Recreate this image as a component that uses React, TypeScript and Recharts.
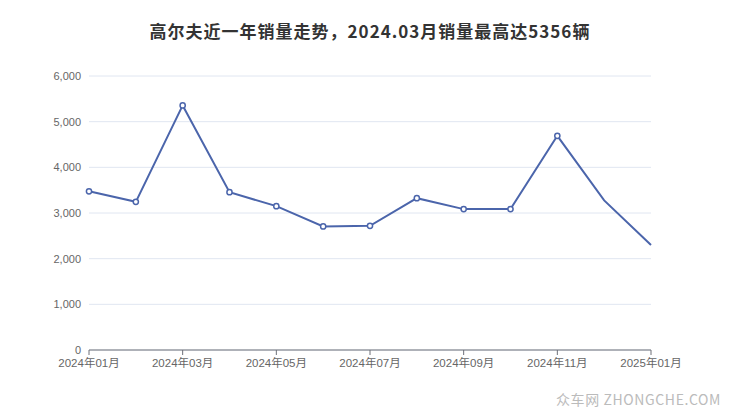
import { LineChart, Line, XAxis, YAxis, CartesianGrid } from "recharts";

// Monthly sales, 2024-01 .. 2025-01
const months = [
  "2024年01月", "2024年02月", "2024年03月", "2024年04月", "2024年05月", "2024年06月",
  "2024年07月", "2024年08月", "2024年09月", "2024年10月", "2024年11月", "2024年12月",
  "2025年01月",
];
const sales = [3475, 3245, 5356, 3455, 3150, 2705, 2720, 3325, 3085, 3085, 4690, 3275, 2300];
const yTicks = [0, 1000, 2000, 3000, 4000, 5000, 6000];
const title = "高尔夫近一年销量走势，2024.03月销量最高达5356辆";

const LINE = "#4b65ab";
const FONT = "'Noto Sans CJK SC', 'Noto Sans', sans-serif";
const TICK_FONT = "'Liberation Sans', 'Noto Sans CJK SC', sans-serif";

// last two points in the reference have no marker
const renderDot = (p: any) => {
  const { cx, cy, index } = p;
  if (index >= months.length - 2) return <g key={`d${index}`} />;
  return <circle key={`d${index}`} cx={cx} cy={cy} r={2.6} fill="#fff" stroke={LINE} strokeWidth={1.5} />;
};

export default function App() {
  const rows = months.map((m, i) => ({ m, v: sales[i] }));
  return (
    <div style={{ position: "absolute", left: 0, top: 0, width: 740, height: 417, background: "#fff", fontFamily: FONT }}>
      <div style={{
        position: "absolute", top: 19, left: 0, width: 740, textAlign: "center",
        fontSize: 17, fontWeight: "bold", color: "#333", lineHeight: "24px", letterSpacing: 1,
      }}>{title}</div>
      <LineChart width={740} height={417} data={rows} margin={{ top: 76, right: 89, bottom: 37, left: 29 }}>
        <CartesianGrid vertical={false} stroke="#E0E6F1" />
        <XAxis
          dataKey="m" interval={1} height={30} tickSize={5} tickMargin={4}
          tick={{ fontSize: 11.5, fill: "#666", fontFamily: TICK_FONT }}
          tickLine={{ stroke: "#6E7079" }} axisLine={{ stroke: "#6E7079" }}
        />
        <YAxis
          domain={[0, 6000]} ticks={yTicks} width={60} tickLine={false} axisLine={false}
          tickFormatter={(v: number) => v.toLocaleString("en-US")}
          tick={{ fontSize: 11, fill: "#666", fontFamily: TICK_FONT }}
        />
        <Line
          type="linear" dataKey="v" stroke={LINE} strokeWidth={2}
          dot={renderDot} activeDot={false} isAnimationActive={false}
        />
      </LineChart>
      <div style={{
        position: "absolute", left: 556, top: 389, fontSize: 14, color: "#bbb",
        letterSpacing: 0.6, fontFamily: FONT,
      }}>众车网 ZHONGCHE.COM</div>
    </div>
  );
}
